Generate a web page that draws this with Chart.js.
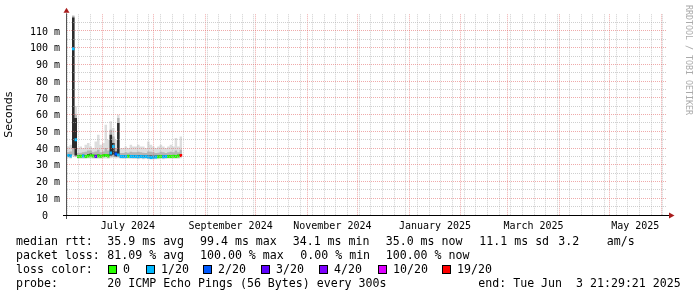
<!DOCTYPE html>
<html><head><meta charset="utf-8">
<script src="https://cdn.jsdelivr.net/npm/chart.js@4.4.1/dist/chart.umd.min.js"></script>
<style>html,body{margin:0;padding:0;background:#fff;}canvas{display:block;}</style>
</head><body>
<canvas id="c" width="697" height="297"></canvas>
<script>
// time axis: days relative to 2024-07-01 00:00
const days = [-21,-19.5,-18,-16.5,-15,-13.5,-12,-10.5,-9,-7.5,-6,-4.5,-3,-1.5,0,1.5,3,4.5,6,7.5,9,10.5,12,13.5,15,16.5,18,19.5,21,22.5,24,25.5,27,28.5,30,31.5,33,34.5,36,37.5,39,40.5,42,43.5,45,46.5];
const lastStepEnd = 48;
// median rtt (ms) and loss (pings lost of 20)
const median = [35.5,35.3,99.4,45.0,35.0,35.1,35.2,35.0,35.3,35.4,35.2,35.0,35.3,35.1,35.4,35.5,35.2,37.0,41.0,36.5,35.8,35.0,34.9,35.0,35.1,35.0,35.0,34.9,34.8,35.0,34.8,34.9,34.6,34.3,34.5,34.6,34.8,35.0,34.8,34.9,35.0,35.0,35.1,35.0,35.2,35.5];
const loss = [1,1,1,1,0,0,1,0,0,0, 0,3,0,0,0,0,0,1,1,2, 1,1,1,1,0,1,1,1,1,1, 1,1,1,1,1,1,0,0,1,1, 0,0,0,0,0,19];
// smoke (ping spread, ms)
const smokeMin = [34.0,33.8,35.0,34.5,33.6,33.7,33.6,33.6,33.8,33.8,33.7,33.6,33.7,33.6,33.8,33.8,33.6,34.0,34.2,33.8,34.0,33.6,33.5,33.6,33.6,33.6,33.5,33.5,33.4,33.6,33.4,33.5,33.3,33.2,33.2,33.3,33.4,33.5,33.4,33.5,33.6,33.6,33.6,33.6,33.7,34.0];
const smokeQ1 = [34.6,34.5,36.0,35.0,34.3,34.4,34.4,34.3,34.5,34.6,34.4,34.3,34.5,34.4,34.6,34.6,34.4,35.0,35.0,34.6,34.8,34.3,34.2,34.3,34.4,34.3,34.3,34.2,34.1,34.3,34.1,34.2,34.0,33.9,33.9,34.0,34.1,34.3,34.1,34.2,34.3,34.3,34.4,34.3,34.4,34.6];
const smokeP40 = [35.0,35.0,40.0,35.5,34.8,34.9,34.9,34.8,35.0,35.0,34.9,34.8,34.9,34.8,35.0,35.0,34.9,35.5,36.0,35.0,36.0,34.8,34.7,34.8,34.9,34.8,34.8,34.7,34.6,34.8,34.6,34.7,34.5,34.4,34.4,34.5,34.6,34.8,34.6,34.7,34.8,34.8,34.9,34.8,34.9,35.0];
const smokeP60 = [36.2,36.0,118,58,35.8,35.9,36.0,35.8,36.5,36.8,36.0,36.0,36.2,35.9,36.2,36.5,36.2,48,43,38,55,35.8,35.7,35.8,35.9,35.8,35.8,35.7,35.7,35.8,35.6,35.7,35.6,35.5,35.4,35.5,35.6,35.8,35.6,35.7,35.8,35.8,35.9,35.9,36.0,36.5];
const smokeQ3 = [37.5,38.0,119,60,37.0,37.2,37.5,37.8,38.5,38.5,37.5,38.0,39.0,37.5,38.0,40.0,38.5,51,47,40,58,37.0,37.0,37.5,37.2,37.8,37.5,37.5,37.8,37.5,37.2,37.0,38.0,37.8,37.5,37.0,37.2,37.8,37.5,37.0,37.5,37.8,37.5,38.5,37.5,39.0];
const smokeMax = [41,42,119.6,65,40,41,40,42,43,41,40,44,48,42,43,54,45,56,52,45,60,40,40,41,40,42,41,41,42,41,41,40,44,42,41,40,41,42,41,40,41,42,41,46,41,47];

// axis
const xMin = -21, xMax = 337.9;
const yMax = 120;
const monthStarts = [0,31,62,92,123,153,184,215,243,274,304,335];
const monthLabelPos = [15.5,77,138,199.5,258.5,319.5];
const monthLabels = ['July 2024','September 2024','November 2024','January 2025','March 2025','May 2025'];

// legend texts
const lossLevels = [0,1,2,3,4,10,19];
const lossLevelNames = ['0','1/20','2/20','3/20','4/20','10/20','19/20'];
const lossLevelColors = ['#26ff00','#00b8ff','#0059ff','#5e00ff','#7e00ff','#dd00ff','#ff0000'];
const rttRow = ['median rtt:','35.9 ms avg','99.4 ms max','34.1 ms min','35.0 ms now','11.1 ms sd','3.2','am/s'];
const lossRow = ['packet loss:','81.09 % avg','100.00 % max','0.00 % min','100.00 % now'];
const probeRow = ['probe:','20 ICMP Echo Pings (56 Bytes) every 300s','end: Tue Jun  3 21:29:21 2025'];
const watermark = 'RRDTOOL / TOBI OETIKER';

function lossColor(n){
  let c = lossLevelColors[0];
  for (let i=0;i<lossLevels.length;i++) if (n >= lossLevels[i]) c = lossLevelColors[i];
  return c;
}
const stepData = arr => days.map((t,i)=>({x:t,y:arr[i]})).concat([{x:lastStepEnd,y:arr[arr.length-1]}]);
const medPts = [];
days.forEach((t,i)=>{const t2 = i+1<days.length?days[i+1]:lastStepEnd; medPts.push({x:t,y:median[i]},{x:t2,y:median[i]},{x:t2,y:null});});

const weekTicks = [];
for (let d = -21; d <= xMax; d += 7) weekTicks.push(d);
const xTickVals = Array.from(new Set([...weekTicks, ...monthStarts, ...monthLabelPos])).filter(v=>v>=xMin&&v<=xMax).sort((a,b)=>a-b);

const GRID_MINOR = 'rgba(175,175,175,0.6)';
const GRID_MAJOR = 'rgba(225,100,100,0.55)';
const MONO = '"DejaVu Sans Mono", monospace';

function band(lo, hi, color, order, loIndex){
  return [
    {data: stepData(lo), stepped:'before', borderWidth:0, borderColor:'rgba(0,0,0,0)', pointRadius:0, fill:false, order},
    {data: stepData(hi), stepped:'before', borderWidth:0, borderColor:'rgba(0,0,0,0)', pointRadius:0, backgroundColor:color, order, fill:loIndex}
  ];
}
const datasets = [];
datasets.push(...band(smokeMin, smokeMax, '#dddddd', 3, 0));
datasets.push(...band(smokeQ1, smokeQ3, '#b4b4b4', 2, 2));
datasets.push(...band(smokeP40, smokeP60, '#2c2c2c', 1, 4));
datasets.push({data: medPts, borderWidth:3, pointRadius:0, fill:false, spanGaps:false, borderCapStyle:'butt', order:0,
  borderColor:'#26ff00',
  segment:{borderColor: c => lossColor(loss[Math.floor(c.p0DataIndex/3)])}});

const decor = {
  id:'decor',
  afterDraw(chart){
    const {ctx, chartArea:a} = chart;
    ctx.save();
    ctx.lineWidth = 1;
    ctx.strokeStyle = '#555';
    ctx.beginPath(); ctx.moveTo(a.left-0.5, a.top-1); ctx.lineTo(a.left-0.5, a.bottom+4); ctx.stroke();
    ctx.strokeStyle = '#000';
    ctx.beginPath(); ctx.moveTo(a.left-4, a.bottom+0.5); ctx.lineTo(a.right+3, a.bottom+0.5); ctx.stroke();
    ctx.fillStyle = '#a81c1c';
    ctx.beginPath(); ctx.moveTo(a.left-0.5, a.top-6.5); ctx.lineTo(a.left-3.5, a.top-1.5); ctx.lineTo(a.left+2.5, a.top-1.5); ctx.closePath(); ctx.fill();
    ctx.beginPath(); ctx.moveTo(a.right+8.5, a.bottom+0.5); ctx.lineTo(a.right+3, a.bottom-2.5); ctx.lineTo(a.right+3, a.bottom+3.5); ctx.closePath(); ctx.fill();
    // watermark
    ctx.save();
    ctx.fillStyle = '#aaaaaa';
    ctx.font = '8.3px ' + MONO;
    ctx.textBaseline = 'middle'; ctx.textAlign = 'left';
    ctx.translate(688, 5); ctx.rotate(Math.PI/2);
    ctx.fillText(watermark, 0, 0);
    ctx.restore();
    // legend
    ctx.fillStyle = '#000';
    ctx.font = '11.6px ' + MONO;
    ctx.textBaseline = 'alphabetic'; ctx.textAlign = 'left';
    const rttX = [16,107.3,200,292.7,385.7,479.3,558.3,606.7];
    rttRow.forEach((s,i)=>ctx.fillText(s, rttX[i], 245));
    const lossX = [16,107.3,200,300.3,385.7];
    lossRow.forEach((s,i)=>ctx.fillText(s, lossX[i], 259));
    ctx.fillText('loss color:', 16, 273);
    const swX = [108,146,203,261,319,378,442];
    lossLevelNames.forEach((s,i)=>{
      ctx.fillStyle = '#000'; ctx.fillRect(swX[i], 265, 9, 9);
      ctx.fillStyle = lossLevelColors[i]; ctx.fillRect(swX[i]+1, 266, 7, 7);
      ctx.fillStyle = '#000'; ctx.fillText(s, swX[i]+15, 273);
    });
    const probeX = [16,107.3,478.3];
    probeRow.forEach((s,i)=>ctx.fillText(s, probeX[i], 287));
    ctx.restore();
  }
};

new Chart(document.getElementById('c'), {
  type:'line',
  data:{datasets},
  options:{
    responsive:false, animation:false, devicePixelRatio:1,
    layout:{padding:{left:0,right:31,top:14.27,bottom:0}},
    plugins:{legend:{display:false}, tooltip:{enabled:false}},
    scales:{
      x:{type:'linear', min:xMin, max:xMax,
        afterBuildTicks: s => { s.ticks = xTickVals.map(v=>({value:v})); },
        afterFit: s => { s.height = 82; },
        ticks:{autoSkip:false, maxRotation:0, minRotation:0, padding:5, color:'#000', font:{family:MONO,size:10},
          callback: v => { const i = monthLabelPos.indexOf(v); return i>=0 ? monthLabels[i] : ''; }},
        grid:{z:1, drawTicks:false, lineWidth:1,
          color: c => { const v = c.tick.value; if (monthStarts.includes(v)) return GRID_MAJOR; if (weekTicks.includes(v)) return GRID_MINOR; return 'rgba(0,0,0,0)'; }},
        border:{display:false, dash:[1,1]}
      },
      y:{type:'linear', min:0, max:yMax,
        afterBuildTicks: s => { s.ticks = s.ticks.filter(t=>t.value<yMax); },
        afterFit: s => { s.width = 67; },
        ticks:{stepSize:5, autoSkip:false, padding:7, labelOffset:1, color:'#000', font:{family:MONO,size:10},
          callback: v => v%10===0 ? (v===0 ? '0  ' : v+' m') : ''},
        grid:{z:1, drawTicks:false, lineWidth:1, color: c => c.tick.value%10===0 ? GRID_MAJOR : GRID_MINOR},
        border:{display:false, dash:[1,1]},
        title:{display:true, text:'Seconds', color:'#000', font:{family:'"DejaVu Sans", sans-serif', size:11}, padding:{top:3,bottom:0}}
      }
    }
  },
  plugins:[decor]
});
</script>
</body></html>
